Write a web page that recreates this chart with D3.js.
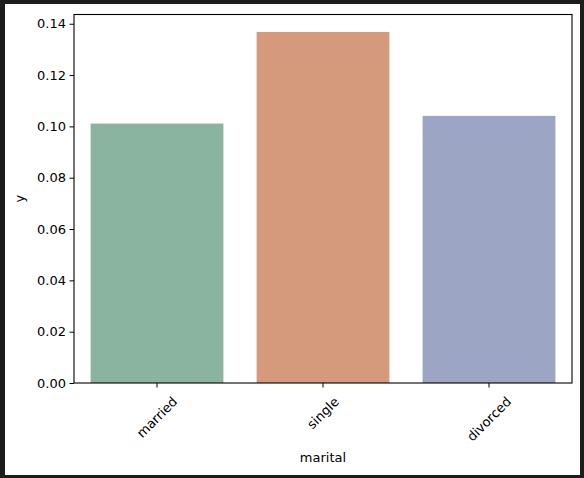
<!DOCTYPE html>
<html>
<head>
<meta charset="utf-8">
<script src="https://cdn.jsdelivr.net/npm/d3@7"></script>
<style>
  html, body { margin: 0; padding: 0; background: #1c1c1c; }
  svg { display: block; }
  text { font-family: "DejaVu Sans", sans-serif; fill: #000; }
</style>
</head>
<body>
<script>
const categories = ["married", "single", "divorced"];
const values = [0.1011, 0.1368, 0.1041];
const colors = ["#8ab4a0", "#d5997b", "#9ca5c3"];
const yTicks = [0.00, 0.02, 0.04, 0.06, 0.08, 0.10, 0.12, 0.14];
const xTitle = "marital";
const yTitle = "y";

(function () {
const W = 584, H = 478;
const fs = 13;
const svg = d3.select("body").append("svg").attr("width", W).attr("height", H);

svg.append("rect").attr("x", 0).attr("y", 0).attr("width", W).attr("height", H).attr("fill", "#1c1c1c");
svg.append("rect").attr("x", 5).attr("y", 4).attr("width", 575).attr("height", 471).attr("fill", "#fff");

const pL = 74, pR = 572, pT = 14.5, pB = 383;

const x = d3.scaleBand().domain(categories).range([pL, pR]).paddingInner(0.2).paddingOuter(0.1);
const y = d3.scaleLinear().domain([0, 0.1436]).range([pB, pT]);

// bars
svg.append("g").selectAll("rect").data(categories).join("rect")
  .attr("x", d => x(d))
  .attr("width", x.bandwidth())
  .attr("y", (d, i) => y(values[i]))
  .attr("height", (d, i) => pB - y(values[i]))
  .attr("fill", (d, i) => colors[i]);

// y axis
const yAxis = d3.axisLeft(y).tickValues(yTicks).tickFormat(d3.format(".2f")).tickSize(4.5).tickPadding(3.5);
const gy = svg.append("g").attr("transform", `translate(${pL},0)`).call(yAxis);
gy.select(".domain").remove();
gy.selectAll("text").attr("font-size", fs).attr("font-family", "DejaVu Sans").attr("fill", "#000");
gy.selectAll("line").attr("stroke", "#000");

// x axis
const xAxis = d3.axisBottom(x).tickSize(4.5).tickFormat("");
const gx = svg.append("g").attr("transform", `translate(0,${pB})`).call(xAxis);
gx.select(".domain").remove();
gx.selectAll("line").attr("stroke", "#000");

// rotated x tick labels
const labelTop = pB + 4.5 + 6.5;
const lg = svg.append("g");
categories.forEach(c => {
  const t = lg.append("text").attr("font-size", fs).attr("text-anchor", "middle")
    .attr("dominant-baseline", "central").text(c);
  const w = t.node().getComputedTextLength();
  const h = fs * 1.164;
  const half = (w + h) / Math.SQRT2 / 2;
  const cx = x(c) + x.bandwidth() / 2;
  const cy = labelTop + half;
  t.attr("transform", `translate(${cx},${cy}) rotate(-45)`);
});

// spines
const sp = svg.append("g").attr("fill", "none").attr("stroke", "#000").attr("stroke-width", 1.1);
sp.append("rect").attr("x", pL).attr("y", pT).attr("width", pR - pL).attr("height", pB - pT);

// axis titles
svg.append("text").attr("x", (pL + pR) / 2).attr("y", 462).attr("text-anchor", "middle")
  .attr("font-size", fs).text(xTitle);
svg.append("text").attr("transform", `translate(24,${(pT + pB) / 2}) rotate(-90)`)
  .attr("text-anchor", "middle").attr("font-size", fs).text(yTitle);
})();
</script>
</body>
</html>
